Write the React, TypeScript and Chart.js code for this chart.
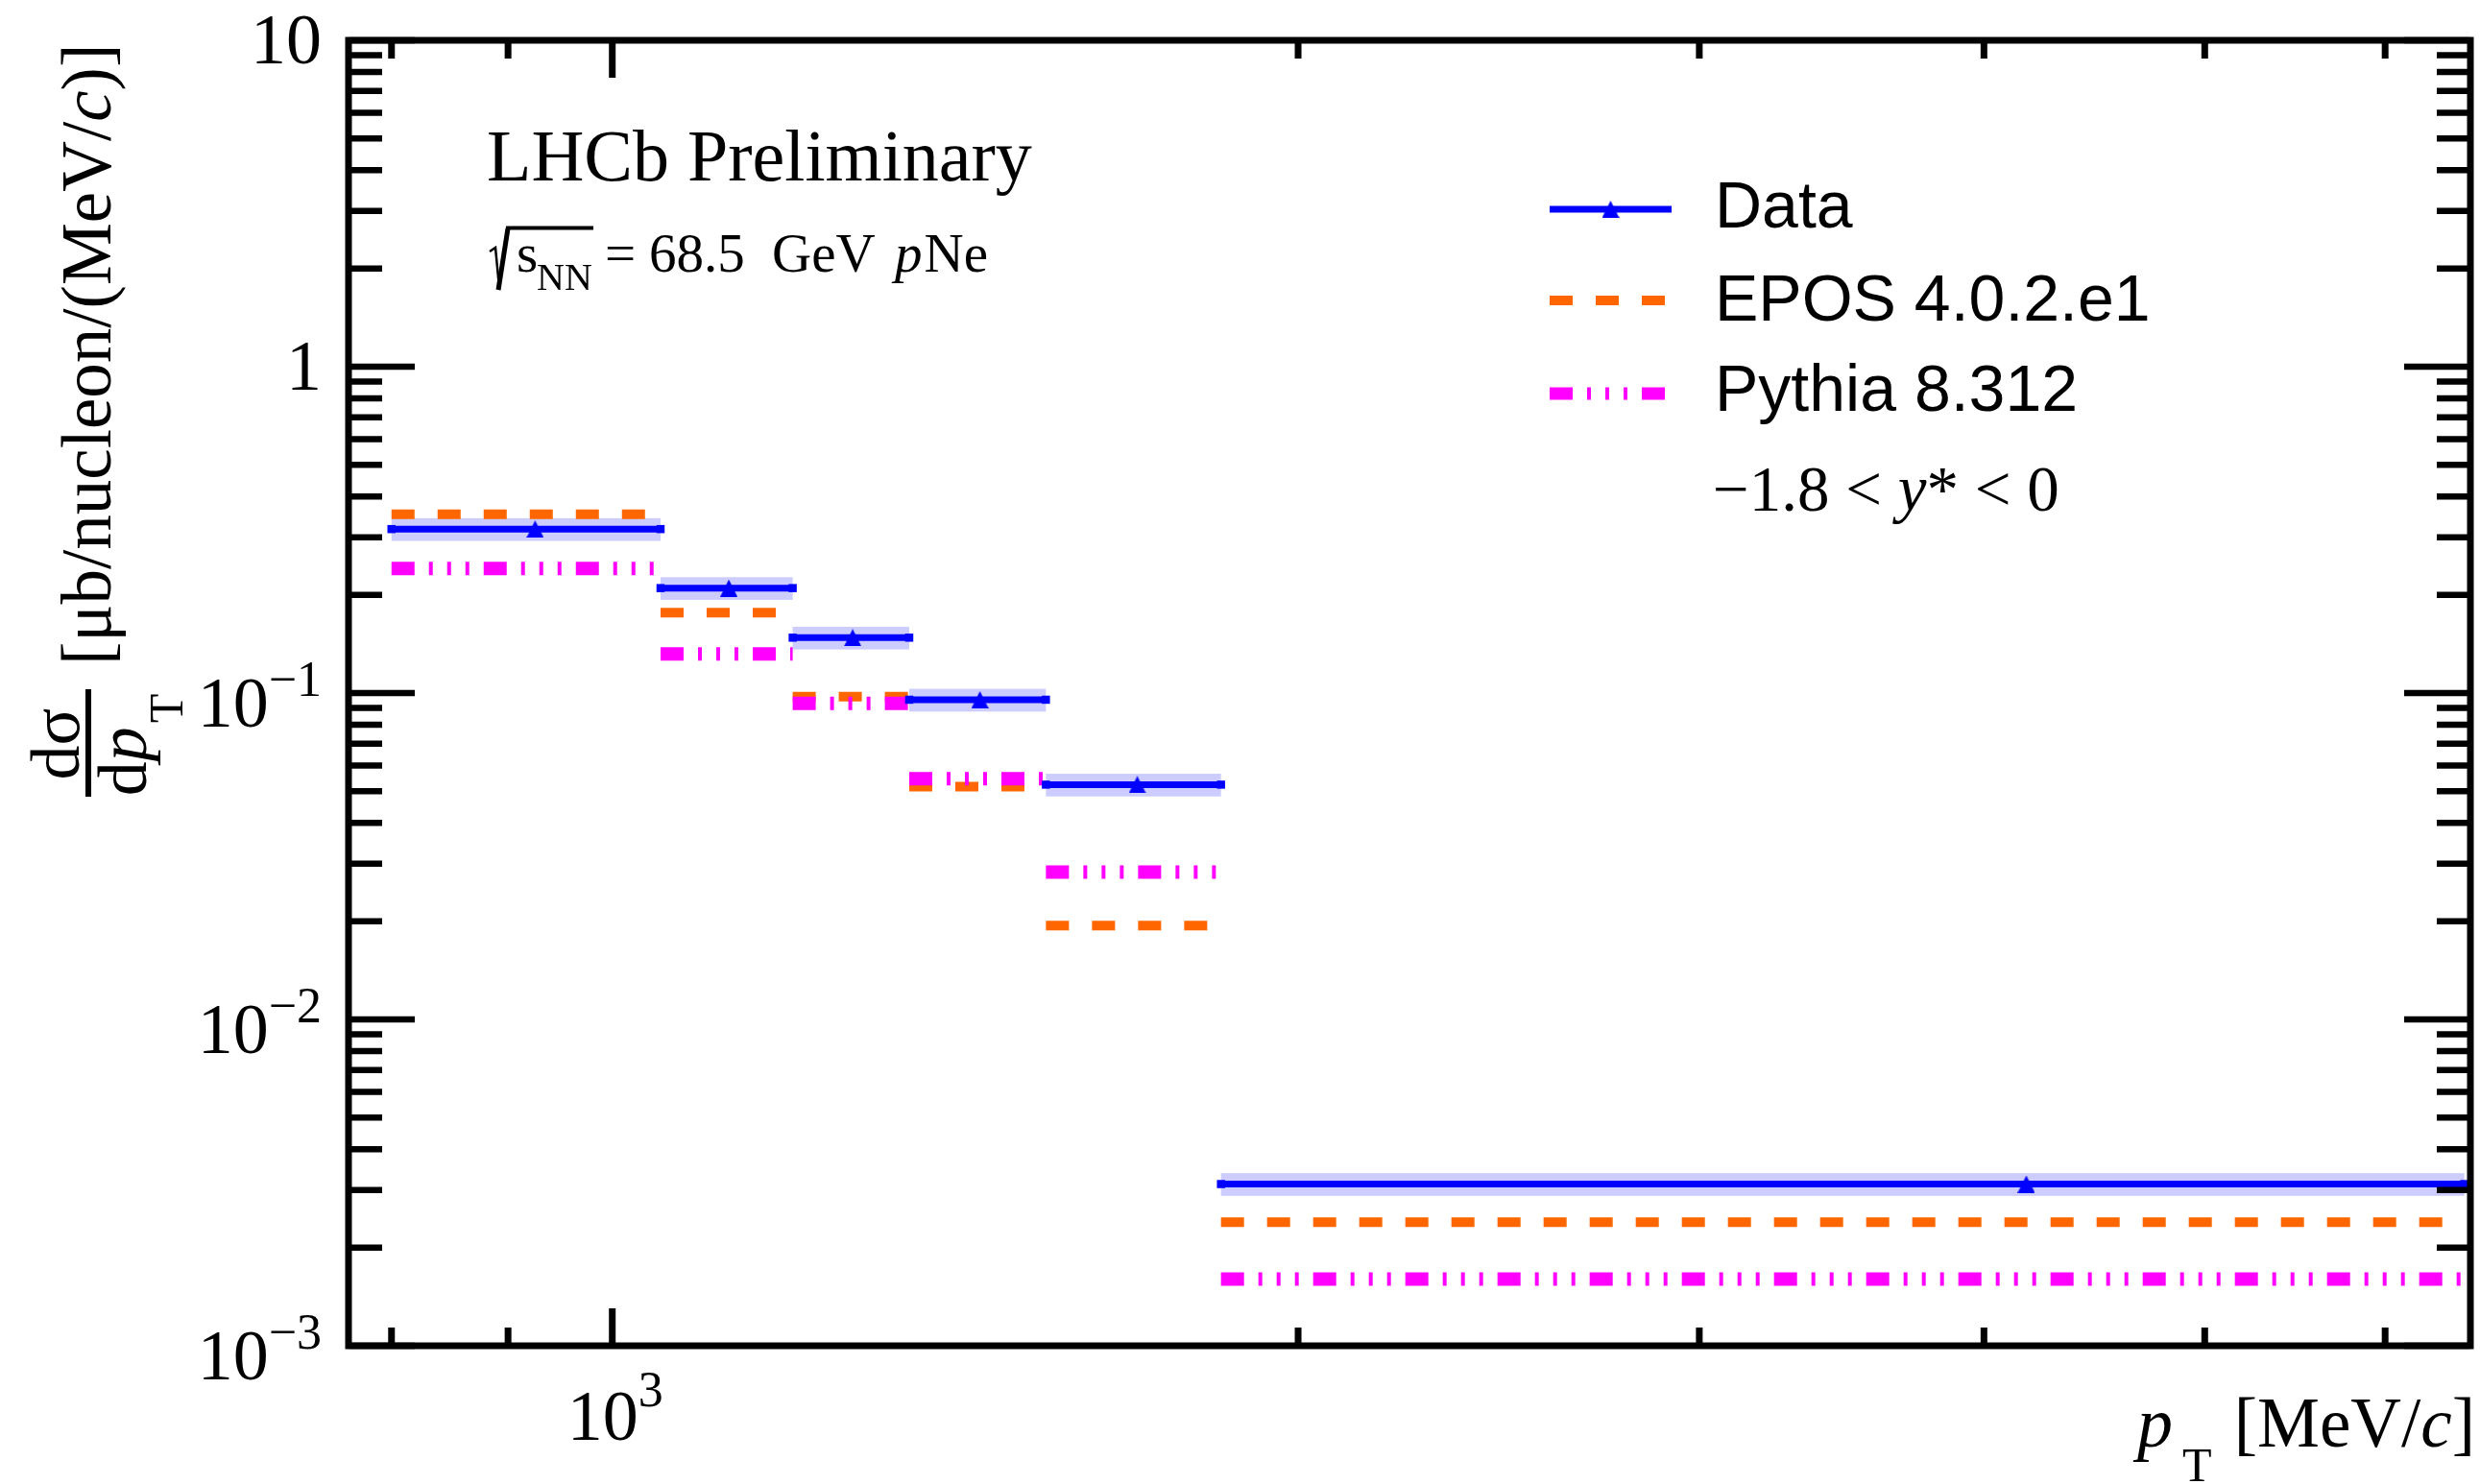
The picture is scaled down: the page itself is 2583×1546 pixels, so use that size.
import React, { useEffect, useRef } from 'react';
import { Chart, registerables } from 'chart.js';

Chart.register(...registerables);

const W = 2583;
const H = 1546;

// ---- data ----
const binEdges = [800, 1050, 1200, 1350, 1550, 1850, 6500];
const binCenters = [925, 1125, 1275, 1450, 1700, 4175];
const dataValues = [0.318, 0.2097, 0.1478, 0.0954, 0.0524, 0.00313];
const dataRelErr = [0.08, 0.08, 0.08, 0.08, 0.08, 0.08];
const eposValues = [0.353, 0.1762, 0.0975, 0.0517, 0.01938, 0.00239];
const pythiaValues = [0.2407, 0.1318, 0.093, 0.0546, 0.0283, 0.0016];

const xRange = [766, 6540];
const yRange = [1e-3, 10];
const xTicks = [800, 900, 1000, 2000, 3000, 4000, 5000, 6000];
const xMajorTicks = [1000];
const xTickLabels = [{ value: 1000, base: '10', exp: '3' }];
const yTickLabels = [
  { value: 10, base: '10', exp: '' },
  { value: 1, base: '1', exp: '' },
  { value: 0.1, base: '10', exp: '\u22121' },
  { value: 0.01, base: '10', exp: '\u22122' },
  { value: 0.001, base: '10', exp: '\u22123' },
];
const legendLabels = ['Data', 'EPOS 4.0.2.e1', 'Pythia 8.312'];

const BLUE = '#0000FF';
const ORANGE = '#FF6600';
const MAGENTA = '#FF00FF';
const BAND = 'rgba(0,0,255,0.2)';
const SERIF = '"Liberation Serif", "Times New Roman", serif';
const SANS = '"Liberation Sans", Arial, sans-serif';
const EPOS_DASH = [24, 24];
const PYTHIA_DASH = [24, 15, 4, 15, 4, 15, 4, 15];

function stepPoints(values: number[]) {
  const pts: { x: number; y: number | null }[] = [];
  values.forEach((v, i) => {
    pts.push({ x: binEdges[i], y: v });
    pts.push({ x: binEdges[i + 1], y: v });
    if (i < values.length - 1) pts.push({ x: binEdges[i + 1], y: null });
  });
  return pts;
}

function makeTriangle(size: number) {
  const c = document.createElement('canvas');
  c.width = size;
  c.height = size;
  const t = c.getContext('2d')!;
  t.fillStyle = BLUE;
  t.beginPath();
  t.moveTo(size / 2, 0);
  t.lineTo(size, size);
  t.lineTo(0, size);
  t.closePath();
  t.fill();
  return c;
}

function makeDecor(tri: HTMLCanvasElement) {
  return {
    id: 'decor',
    beforeDatasetsDraw(chart: any) {
      const ctx = chart.ctx;
      const xs = chart.scales.x;
      const ys = chart.scales.y;
      ctx.save();
      ctx.fillStyle = BAND;
      dataValues.forEach((v, i) => {
        const x0 = xs.getPixelForValue(binEdges[i]);
        const x1 = xs.getPixelForValue(binEdges[i + 1]);
        const y0 = ys.getPixelForValue(v * (1 + dataRelErr[i]));
        const y1 = ys.getPixelForValue(v * (1 - dataRelErr[i]));
        ctx.fillRect(x0, y0, x1 - x0, y1 - y0);
      });
      ctx.restore();
    },
    afterDraw(chart: any) {
      const ctx: CanvasRenderingContext2D = chart.ctx;
      const xs = chart.scales.x;
      const ys = chart.scales.y;
      const { left, right, top, bottom } = chart.chartArea;
      ctx.save();
      ctx.strokeStyle = '#000';
      ctx.fillStyle = '#000';
      const line = (x0: number, y0: number, x1: number, y1: number) => {
        ctx.beginPath();
        ctx.moveTo(x0, y0);
        ctx.lineTo(x1, y1);
        ctx.stroke();
      };
      // frame
      ctx.lineWidth = 7;
      ctx.strokeRect(left, top, right - left, bottom - top);
      // y ticks
      ctx.lineWidth = 6.5;
      for (let d = -3; d <= 1; d++) {
        for (let m = 1; m <= 9; m++) {
          const v = m * Math.pow(10, d);
          if (v < yRange[0] * 0.999 || v > yRange[1] * 1.001) continue;
          const py = ys.getPixelForValue(v);
          const len = m === 1 ? 69 : 35;
          line(left, py, left + len, py);
          line(right, py, right - len, py);
        }
      }
      // x ticks
      ctx.lineWidth = 7;
      xTicks.forEach((v) => {
        const px = xs.getPixelForValue(v);
        const len = xMajorTicks.includes(v) ? 39 : 19;
        line(px, bottom, px, bottom - len);
        line(px, top, px, top + len);
      });

      // y tick labels
      ctx.textBaseline = 'alphabetic';
      ctx.textAlign = 'left';
      const mainFont = `74px ${SERIF}`;
      const supFont = `52px ${SERIF}`;
      yTickLabels.forEach((lab) => {
        const py = ys.getPixelForValue(lab.value);
        ctx.font = mainFont;
        const wb = ctx.measureText(lab.base).width;
        ctx.font = supFont;
        const we = lab.exp ? ctx.measureText(lab.exp).width : 0;
        const rightEdge = 335;
        const x0 = rightEdge - wb - we;
        const base = lab.exp ? py + 35 : py + 24;
        ctx.font = mainFont;
        ctx.fillText(lab.base, x0, base);
        if (lab.exp) {
          ctx.font = supFont;
          ctx.fillText(lab.exp, x0 + wb, base - 32);
        }
      });
      // x tick labels
      xTickLabels.forEach((lab) => {
        const px = xs.getPixelForValue(lab.value);
        ctx.font = mainFont;
        const wb = ctx.measureText(lab.base).width;
        ctx.font = supFont;
        const we = ctx.measureText(lab.exp).width;
        const x0 = px + 3 - (wb + we) / 2;
        ctx.font = mainFont;
        ctx.fillText(lab.base, x0, 1500);
        ctx.font = supFont;
        ctx.fillText(lab.exp, x0 + wb, 1465);
      });

      // x axis title: p_T [MeV/c]
      ctx.font = `italic 74px ${SERIF}`;
      ctx.fillText('p', 2226, 1507);
      ctx.font = `50px ${SERIF}`;
      ctx.fillText('T', 2273, 1543);
      ctx.font = `73px ${SERIF}`;
      const brA = '[MeV/';
      const wA = ctx.measureText(brA).width;
      ctx.font = `italic 73px ${SERIF}`;
      const wC = ctx.measureText('c').width;
      ctx.font = `73px ${SERIF}`;
      const wZ = ctx.measureText(']').width;
      let xx = 2578 - (wA + wC + wZ);
      ctx.fillText(brA, xx, 1507);
      xx += wA;
      ctx.font = `italic 73px ${SERIF}`;
      ctx.fillText('c', xx, 1507);
      xx += wC;
      ctx.font = `73px ${SERIF}`;
      ctx.fillText(']', xx, 1507);

      // y axis title (rotated)
      ctx.save();
      ctx.rotate(-Math.PI / 2);
      ctx.font = `72px ${SERIF}`;
      ctx.textAlign = 'center';
      ctx.fillText('d\u03c3', -775, 82);
      ctx.textAlign = 'left';
      ctx.font = `72px ${SERIF}`;
      const wd = ctx.measureText('d').width;
      ctx.font = `italic 72px ${SERIF}`;
      const wp = ctx.measureText('p').width;
      ctx.font = `50px ${SERIF}`;
      const wT = ctx.measureText('T').width;
      let u = -776 - (wd + wp + 4 + wT) / 2;
      ctx.font = `72px ${SERIF}`;
      ctx.fillText('d', u, 152);
      u += wd;
      ctx.font = `italic 72px ${SERIF}`;
      ctx.fillText('p', u, 152);
      u += wp + 4;
      ctx.font = `50px ${SERIF}`;
      ctx.fillText('T', u, 190);
      u = -693;
      ctx.font = `73px ${SERIF}`;
      const unitA = '[\u03bcb/nucleon/(MeV/';
      ctx.fillText(unitA, u, 115);
      u += ctx.measureText(unitA).width;
      ctx.font = `italic 73px ${SERIF}`;
      ctx.fillText('c', u, 115);
      u += ctx.measureText('c').width;
      ctx.font = `73px ${SERIF}`;
      ctx.fillText(')]', u, 115);
      ctx.restore();
      ctx.lineWidth = 6;
      line(92, 718, 92, 830);

      // LHCb Preliminary
      ctx.font = `76px ${SERIF}`;
      ctx.fillText('LHCb Preliminary', 507, 188);

      // sqrt(s_NN) = 68.5 GeV pNe
      ctx.lineWidth = 2.5;
      ctx.beginPath();
      ctx.moveTo(510, 262);
      ctx.lineTo(516, 258);
      ctx.lineTo(520, 300);
      ctx.stroke();
      ctx.lineWidth = 5;
      ctx.beginPath();
      ctx.moveTo(519, 302);
      ctx.lineTo(529, 238);
      ctx.stroke();
      ctx.lineWidth = 4;
      line(527, 237.5, 618, 237.5);
      ctx.font = `57px ${SERIF}`;
      ctx.fillText('s', 538, 283);
      ctx.font = `40px ${SERIF}`;
      ctx.fillText('NN', 559, 302);
      ctx.font = `57px ${SERIF}`;
      ctx.fillText('=', 630, 283);
      ctx.fillText('68.5', 676, 283);
      ctx.fillText('GeV', 804, 283);
      ctx.font = `italic 57px ${SERIF}`;
      ctx.fillText('p', 932, 283);
      const wpp = ctx.measureText('p').width;
      ctx.font = `57px ${SERIF}`;
      ctx.fillText('Ne', 932 + wpp + 2, 283);

      // legend
      const lx0 = 1614;
      const lx1 = 1741;
      const ly = [218, 313, 410];
      ctx.lineCap = 'butt';
      ctx.strokeStyle = BLUE;
      ctx.lineWidth = 7;
      line(lx0, ly[0], lx1, ly[0]);
      ctx.drawImage(tri, (lx0 + lx1) / 2 - tri.width / 2, ly[0] - tri.height / 2);
      ctx.strokeStyle = ORANGE;
      ctx.lineWidth = 10;
      ctx.setLineDash(EPOS_DASH);
      line(lx0, ly[1], lx1, ly[1]);
      ctx.strokeStyle = MAGENTA;
      ctx.lineWidth = 13;
      ctx.setLineDash(PYTHIA_DASH);
      line(lx0, ly[2], lx1, ly[2]);
      ctx.setLineDash([]);
      ctx.fillStyle = '#000';
      ctx.font = `68px ${SANS}`;
      const lb = [237, 334, 428];
      legendLabels.forEach((t, i) => ctx.fillText(t, 1786, lb[i]));

      // rapidity range
      ctx.font = `67px ${SERIF}`;
      let rx = 1784;
      const r1 = '\u22121.8 < ';
      ctx.fillText(r1, rx, 532);
      rx += ctx.measureText(r1).width;
      ctx.font = `italic 67px ${SERIF}`;
      ctx.fillText('y', rx, 532);
      rx += ctx.measureText('y').width;
      ctx.font = `67px ${SERIF}`;
      ctx.fillText('* < 0', rx, 532);

      ctx.restore();
    },
  };
}

export default function App() {
  const ref = useRef<HTMLCanvasElement>(null);
  useEffect(() => {
    document.body.style.margin = '0';
    document.body.style.overflow = 'hidden';
    const canvas = ref.current!;
    const tri = makeTriangle(18);
    const chart = new Chart(canvas, {
      type: 'line',
      data: {
        datasets: [
          {
            label: 'Data points',
            data: binCenters.map((x, i) => ({ x, y: dataValues[i] })),
            showLine: false,
            pointStyle: tri as any,
            pointRadius: 9,
            order: 0,
          },
          {
            label: legendLabels[0],
            data: stepPoints(dataValues) as any,
            borderColor: BLUE,
            borderWidth: 7,
            pointStyle: 'rect',
            pointRadius: 6,
            pointBackgroundColor: BLUE,
            pointBorderWidth: 0,
            order: 1,
          },
          {
            label: legendLabels[2],
            data: stepPoints(pythiaValues) as any,
            borderColor: MAGENTA,
            borderWidth: 14,
            borderDash: PYTHIA_DASH,
            borderCapStyle: 'butt',
            pointRadius: 0,
            order: 2,
          },
          {
            label: legendLabels[1],
            data: stepPoints(eposValues) as any,
            borderColor: ORANGE,
            borderWidth: 10,
            borderDash: EPOS_DASH,
            borderCapStyle: 'butt',
            pointRadius: 0,
            order: 3,
          },
        ],
      },
      options: {
        responsive: false,
        animation: false,
        devicePixelRatio: 1,
        events: [],
        layout: { padding: { left: 363, top: 42, right: 5, bottom: 144 } },
        scales: {
          x: { type: 'logarithmic', min: xRange[0], max: xRange[1], display: false },
          y: { type: 'logarithmic', min: yRange[0], max: yRange[1], display: false },
        },
        plugins: { legend: { display: false }, tooltip: { enabled: false } },
      },
      plugins: [makeDecor(tri)],
    } as any);
    return () => chart.destroy();
  }, []);
  return (
    <canvas
      ref={ref}
      width={W}
      height={H}
      style={{ display: 'block', width: W, height: H, background: '#fff' }}
    />
  );
}
